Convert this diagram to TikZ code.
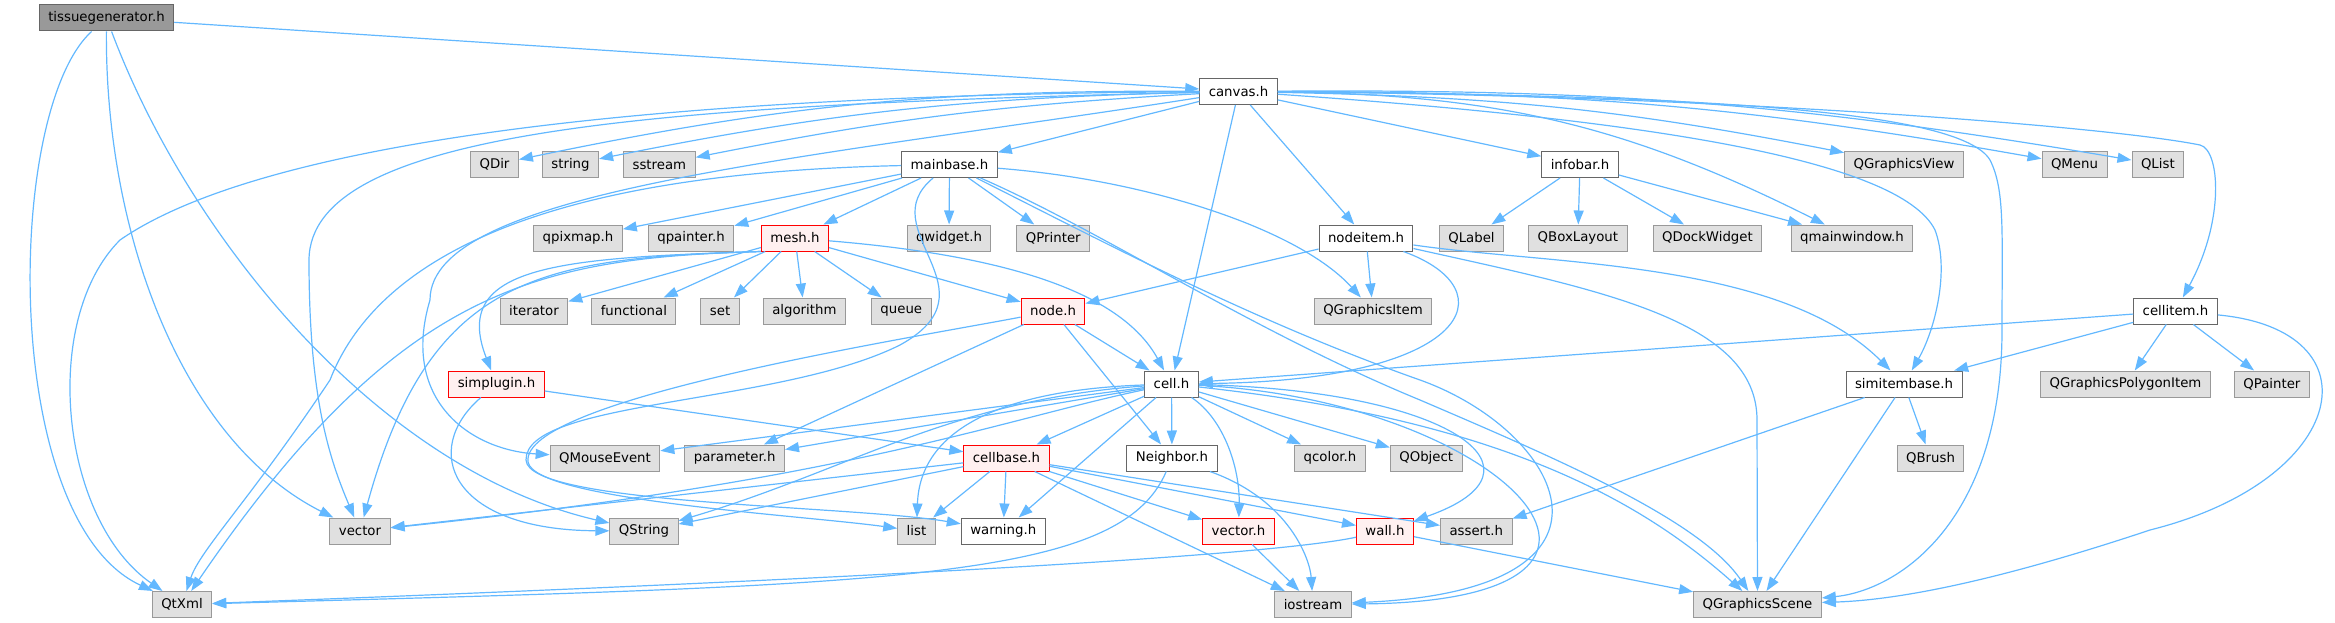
\documentclass[tikz,border=0pt]{standalone}
\usepackage{fontspec}
\setmainfont{DejaVu Sans}
\usepackage{xcolor}
\usetikzlibrary{arrows.meta,positioning}
\definecolor{edgeblue}{HTML}{63B8FF}
\definecolor{extfill}{HTML}{E0E0E0}
\definecolor{extline}{HTML}{999999}
\definecolor{docline}{HTML}{666666}
\definecolor{rootfill}{HTML}{999999}
\definecolor{truncfill}{HTML}{FFF0F0}
\definecolor{truncline}{HTML}{FF0000}

\begin{document}
\begin{tikzpicture}[x=1pt, y=-1pt,
  box/.style={rectangle, draw, line width=1pt, minimum height=26pt, inner xsep=9pt, inner ysep=0pt, font=\fontsize{13.3}{16}\selectfont},
  ext/.style={box, draw=extline, fill=extfill},
  doc/.style={box, draw=docline, fill=white},
  trunc/.style={box, draw=truncline, fill=truncfill},
  root/.style={box, draw=docline, fill=rootfill},
  incl/.style={draw=edgeblue, line width=1.2pt, -{Triangle[length=14pt,width=10pt]}}
]
\useasboundingbox (0,0) rectangle (2335,623);
\node[root] (tissue) at (106.5,18) {tissuegenerator.h};
\node[doc] (canvas) at (1238.5,91.5) {canvas.h};
\node[ext] (qdir) at (494.5,164.5) {QDir};
\node[ext, right=23pt of qdir] (str) {string};
\node[ext, right=24pt of str] (sstream) {sstream};
\node[doc] (mainbase) at (949.5,164.5) {mainbase.h};
\node[doc] (infobar) at (1580,164.5) {infobar.h};
\node[ext] (qgview) at (1904,164.5) {QGraphicsView};
\node[ext] (qmenu) at (2074.5,164.5) {QMenu};
\node[ext, right=24pt of qmenu] (qlist) {QList};
\node[ext] (qpixmap) at (578,238) {qpixmap.h};
\node[ext, right=25pt of qpixmap] (qpainter) {qpainter.h};
\node[trunc] (mesh) at (795,238) {mesh.h};
\node[ext] (qwidget) at (949,238) {qwidget.h};
\node[ext, right=25pt of qwidget] (qprinter) {QPrinter};
\node[doc] (nodeitem) at (1366,238) {nodeitem.h};
\node[ext] (qlabel) at (1471.5,238) {QLabel};
\node[ext, right=24pt of qlabel] (qboxlayout) {QBoxLayout};
\node[ext, right=25pt of qboxlayout] (qdockwidget) {QDockWidget};
\node[ext] (qmainwindow) at (1852,238) {qmainwindow.h};
\node[ext] (iterator) at (534,311) {iterator};
\node[ext, right=23pt of iterator] (functional) {functional};
\node[ext, right=24pt of functional] (set) {set};
\node[ext, right=23pt of set] (algorithm) {algorithm};
\node[ext, right=25pt of algorithm] (queue) {queue};
\node[trunc] (nodeh) at (1053,311) {node.h};
\node[ext] (qgitem) at (1373,311) {QGraphicsItem};
\node[doc] (cellitem) at (2175.5,311) {cellitem.h};
\node[trunc] (simplugin) at (496.5,384) {simplugin.h};
\node[doc] (cell) at (1171.5,384) {cell.h};
\node[doc] (simitembase) at (1904,384) {simitembase.h};
\node[ext] (qgpoly) at (2125.5,384) {QGraphicsPolygonItem};
\node[ext, right=23pt of qgpoly] (qpaintercls) {QPainter};
\node[ext] (qmouse) at (605,458) {QMouseEvent};
\node[ext, right=24pt of qmouse] (parameter) {parameter.h};
\node[trunc] (cellbase) at (1006.5,458) {cellbase.h};
\node[doc] (neighbor) at (1172,458) {Neighbor.h};
\node[ext] (qcolor) at (1330,458) {qcolor.h};
\node[ext, right=24pt of qcolor] (qobject) {QObject};
\node[ext] (qbrush) at (1930.5,458) {QBrush};
\node[ext] (vector) at (360,531) {vector};
\node[ext] (qstring) at (644,531) {QString};
\node[ext] (list) at (916.5,531) {list};
\node[doc, right=25pt of list] (warning) {warning.h};
\node[trunc] (vectorh) at (1238.5,531) {vector.h};
\node[trunc] (wall) at (1385,531) {wall.h};
\node[ext, right=26pt of wall] (assert) {assert.h};
\node[ext] (qtxml) at (182,604.5) {QtXml};
\node[ext] (iostream) at (1313,604.5) {iostream};
\node[ext] (qgscene) at (1757.5,604.5) {QGraphicsScene};

\draw[incl] (tissue) -- (canvas);
\draw[incl] (tissue) .. controls (5,110) and (0,520) .. (qtxml);
\draw[incl] (tissue) .. controls (105,230) and (180,440) .. (vector);
\draw[incl] (tissue) .. controls (190,240) and (380,470) .. (qstring);

\draw[incl] (canvas) .. controls (600,95) and (250,150) .. (120,240) .. controls (40,320) and (60,520) .. (qtxml);
\draw[incl] (canvas) .. controls (650,105) and (310,130) .. (309,260) .. controls (309,400) and (330,460) .. (vector);
\draw[incl] (canvas) to[bend right=6] (qdir);
\draw[incl] (canvas) to[bend right=5] (str);
\draw[incl] (canvas) to[bend right=4] (sstream);
\draw[incl] (canvas) .. controls (800,160) and (430,190) .. (430,300) .. controls (400,400) and (470,450) .. (qmouse);
\draw[incl] (canvas) -- (mainbase);
\draw[incl] (canvas) -- (cell);
\draw[incl] (canvas) -- (nodeitem);
\draw[incl] (canvas) -- (infobar);
\draw[incl] (canvas) to[bend left=13] (qmainwindow);
\draw[incl] (canvas) to[bend left=5] (qgview);
\draw[incl] (canvas) to[bend left=5] (qmenu);
\draw[incl] (canvas) to[bend left=5] (qlist);
\draw[incl] (canvas) .. controls (1700,95) and (2100,125) .. (2200,145) .. controls (2220,150) and (2225,220) .. (cellitem);
\draw[incl] (canvas) .. controls (1650,120) and (1900,160) .. (1935,230) .. controls (1950,270) and (1935,330) .. (simitembase);
\draw[incl] (canvas) .. controls (1700,95) and (1960,110) .. (1990,160) .. controls (2005,190) and (2002,230) .. (2002,330) .. controls (2002,520) and (1900,590) .. (qgscene);

\draw[incl] (mainbase) .. controls (700,170) and (400,200) .. (330,380) .. controls (250,500) and (200,550) .. (qtxml);
\draw[incl] (mainbase) -- (qpixmap);
\draw[incl] (mainbase) -- (qpainter);
\draw[incl] (mainbase) -- (mesh);
\draw[incl] (mainbase) -- (qwidget);
\draw[incl] (mainbase) -- (qprinter);
\draw[incl] (mainbase) .. controls (870,230) and (1000,290) .. (900,345) .. controls (780,405) and (525,400) .. (526,460) .. controls (528,505) and (850,505) .. (warning);
\draw[incl] (mainbase) .. controls (1100,240) and (1250,320) .. (1420,380) .. controls (1560,430) and (1650,590) .. (iostream);
\draw[incl] (mainbase) .. controls (1100,230) and (1250,330) .. (1420,400) .. controls (1560,460) and (1700,520) .. (qgscene);
\draw[incl] (mainbase) .. controls (1150,180) and (1300,230) .. (qgitem);

\draw[incl] (infobar) -- (qlabel);
\draw[incl] (infobar) -- (qboxlayout);
\draw[incl] (infobar) -- (qdockwidget);
\draw[incl] (infobar) -- (qmainwindow);

\draw[incl] (nodeitem) -- (nodeh);
\draw[incl] (nodeitem) -- (qgitem);
\draw[incl] (nodeitem) .. controls (1510,290) and (1470,380) .. (cell);
\draw[incl] (nodeitem) .. controls (1550,265) and (1780,260) .. (simitembase);
\draw[incl] (nodeitem) .. controls (1600,290) and (1757,320) .. (1757,420) -- (qgscene);

\draw[incl] (cellitem) -- (cell);
\draw[incl] (cellitem) -- (simitembase);
\draw[incl] (cellitem) -- (qgpoly);
\draw[incl] (cellitem) -- (qpaintercls);
\draw[incl] (cellitem) .. controls (2380,330) and (2350,480) .. (2150,530) .. controls (2000,580) and (1900,600) .. (qgscene);

\draw[incl] (mesh) -- (iterator);
\draw[incl] (mesh) -- (functional);
\draw[incl] (mesh) -- (set);
\draw[incl] (mesh) -- (algorithm);
\draw[incl] (mesh) -- (queue);
\draw[incl] (mesh) -- (nodeh);
\draw[incl] (mesh) .. controls (1000,255) and (1120,290) .. (cell);
\draw[incl] (mesh.south west) .. controls (560,258) and (450,265) .. (simplugin);
\draw[incl] (mesh.south west) .. controls (540,258) and (400,285) .. (qtxml);
\draw[incl] (mesh.south west) .. controls (540,258) and (430,275) .. (vector);

\draw[incl] (nodeh) -- (cell);
\draw[incl] (nodeh) -- (neighbor);
\draw[incl] (nodeh) -- (parameter);
\draw[incl] (nodeh) .. controls (900,340) and (520,400) .. (528,462) .. controls (535,500) and (800,515) .. (list);

\draw[incl] (simplugin) .. controls (420,450) and (450,530) .. (qstring);
\draw[incl] (simplugin) -- (cellbase);

\draw[incl] (cell) -- (qmouse);
\draw[incl] (cell) -- (parameter);
\draw[incl] (cell) .. controls (1000,420) and (850,480) .. (vector);
\draw[incl] (cell) .. controls (950,400) and (850,470) .. (qstring);
\draw[incl] (cell) .. controls (1000,390) and (920,430) .. (list);
\draw[incl] (cell) -- (cellbase);
\draw[incl] (cell) -- (warning);
\draw[incl] (cell) -- (neighbor);
\draw[incl] (cell) .. controls (1225,420) and (1240,470) .. (vectorh);
\draw[incl] (cell) -- (qcolor);
\draw[incl] (cell) -- (qobject);
\draw[incl] (cell) .. controls (1450,390) and (1560,470) .. (wall);
\draw[incl] (cell) .. controls (1500,400) and (1700,600) .. (iostream);
\draw[incl] (cell) .. controls (1500,420) and (1640,500) .. (qgscene);

\draw[incl] (cellbase) -- (vector);
\draw[incl] (cellbase) -- (qstring);
\draw[incl] (cellbase) -- (list);
\draw[incl] (cellbase) -- (warning);
\draw[incl] (cellbase) -- (iostream);
\draw[incl] (cellbase) -- (vectorh);
\draw[incl] (cellbase) -- (wall);
\draw[incl] (cellbase) -- (assert);

\draw[incl] (neighbor) .. controls (1120,580) and (900,585) .. (qtxml);
\draw[incl] (neighbor) .. controls (1290,500) and (1310,560) .. (iostream);
\draw[incl] (vectorh) -- (iostream);
\draw[incl] (wall) .. controls (1250,560) and (700,585) .. (qtxml);
\draw[incl] (wall) -- (qgscene);

\draw[incl] (simitembase) -- (assert);
\draw[incl] (simitembase) -- (qbrush);
\draw[incl] (simitembase) -- (qgscene);
\end{tikzpicture}
\end{document}
